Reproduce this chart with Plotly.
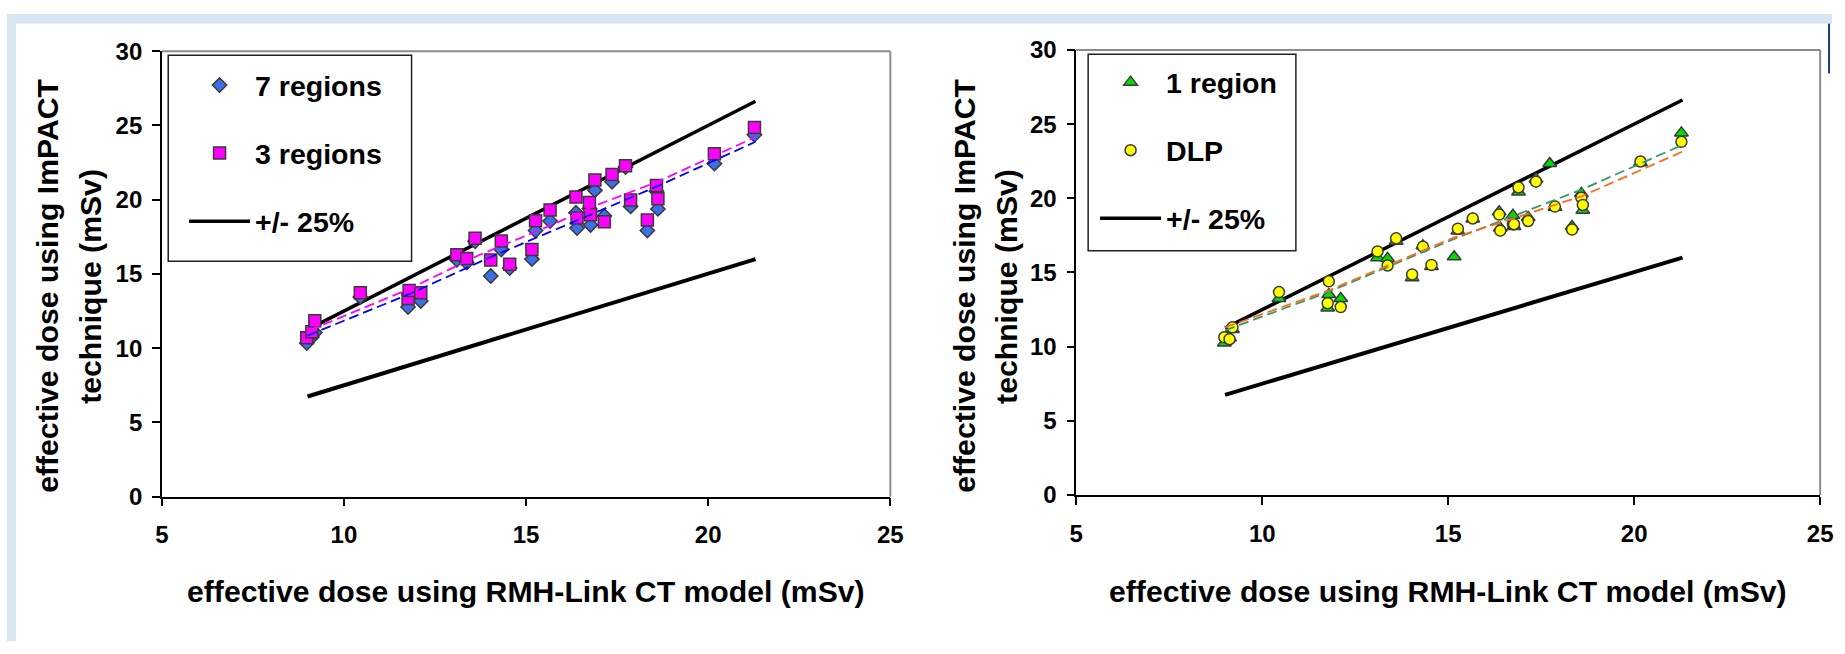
import plotly.graph_objects as go

W, H = 1845, 654

# Effective dose per patient from the RMH-Link CT model (mSv)
rmh_link = [8.98, 9.12, 9.20, 10.45, 11.76, 11.79, 12.11, 13.10, 13.37, 13.60,
            14.03, 14.32, 14.55, 15.16, 15.26, 15.66, 16.37, 16.40, 16.74, 16.77,
            16.89, 17.15, 17.36, 17.73, 17.87, 18.33, 18.58, 18.62, 20.17, 21.27]

# ImPACT estimates for the same patients (mSv)
impact_7_regions = [10.35, 10.75, 11.05, 13.45, 12.77, 13.65, 13.18, 15.95, 15.77, 17.20,
                    14.86, 16.65, 15.40, 16.00, 17.92, 18.56, 19.12, 18.09, 19.40, 18.30,
                    20.63, 18.90, 21.21, 22.20, 19.55, 17.92, 20.57, 19.38, 22.43, 24.37]
impact_3_regions = [10.70, 11.10, 11.85, 13.74, 13.35, 13.89, 13.74, 16.30, 16.04, 17.40,
                    15.94, 17.22, 15.66, 16.65, 18.58, 19.31, 20.19, 18.77, 19.81, 18.99,
                    21.32, 18.52, 21.70, 22.28, 19.98, 18.63, 20.95, 20.07, 23.10, 24.87]
impact_1_region = [10.25, 10.60, 11.15, 13.25, 12.60, 13.51, 13.25, 16.00, 15.95, 17.10,
                   14.65, 16.80, 15.40, 16.06, 17.80, 18.60, 19.10, 18.00, 18.85, 18.10,
                   20.42, 18.70, 21.30, 22.35, 19.40, 18.10, 20.32, 19.20, 22.40, 24.41]
impact_dlp = [10.63, 10.50, 11.30, 13.68, 12.93, 14.40, 12.67, 16.42, 15.47, 17.30,
              14.87, 16.74, 15.51, None, 17.95, 18.64, 18.90, 17.82, 18.25, 18.25,
              20.73, 18.47, 21.12, None, 19.44, 17.89, 20.04, 19.55, 22.48, 23.81]

# +/- 25% agreement band
band_x = [9.0, 21.3]
band_upper = [11.25, 26.63]
band_lower = [6.75, 16.0]

# Fitted trend lines
trend7_x = [9.0, 11.8, 13.9, 16.0, 18.6, 21.3]
trend7_y = [10.85, 13.65, 16.0, 18.2, 20.9, 23.9]
trend3_x = [9.05, 11.8, 13.7, 15.5, 16.9, 18.6, 21.3]
trend3_y = [11.2, 14.0, 16.26, 18.09, 19.6, 21.2, 24.22]
trend1_x = [9.0, 11.8, 15.1, 18.6, 21.3]
trend1_y = [11.1, 13.7, 17.2, 20.6, 23.6]
trend_dlp_x = [9.0, 11.8, 15.1, 18.6, 21.3]
trend_dlp_y = [11.3, 13.8, 17.3, 20.15, 23.15]

x_ticks = [5, 10, 15, 20, 25]
y_ticks = [0, 5, 10, 15, 20, 25, 30]

FONT = "Liberation Sans, Arial, sans-serif"
OUTLINE = dict(color="#3a3a3a", width=1.5)

# pixel layout of the two panels
panels = {
    "left": dict(x0=156.5, x1=893, y0=38.8, y1=503.5),
    "right": dict(x0=1081, x1=1833, y0=37.5, y1=501.7),
}


def xdom(p):
    return [p["x0"] / W, p["x1"] / W]


def ydom(p):
    return [1 - p["y1"] / H, 1 - p["y0"] / H]


fig = go.Figure()


def add_panel(xa, ya, legend, series, trends):
    fig.add_trace(go.Scatter(
        x=band_x, y=band_upper, mode="lines", name="+/- 25%",
        line=dict(color="black", width=3.5), xaxis=xa, yaxis=ya,
        legend=legend, legendgroup=legend + "band", legendrank=3))
    fig.add_trace(go.Scatter(
        x=band_x, y=band_lower, mode="lines", showlegend=False,
        line=dict(color="black", width=4), xaxis=xa, yaxis=ya))
    for rank, (name, ys, symbol, size, color) in enumerate(series, start=1):
        fig.add_trace(go.Scatter(
            x=rmh_link, y=ys, mode="markers", name=name,
            marker=dict(symbol=symbol, size=size, color=color, line=OUTLINE),
            xaxis=xa, yaxis=ya, legend=legend,
            legendgroup=legend + name, legendrank=rank))
    for tx, ty, color in trends:
        fig.add_trace(go.Scatter(
            x=tx, y=ty, mode="lines", showlegend=False,
            line=dict(color=color, width=1.8, dash="10px,5px"),
            xaxis=xa, yaxis=ya))


add_panel("x", "y", "legend",
          [("7 regions", impact_7_regions, "diamond", 11, "#3d6fe8"),
           ("3 regions", impact_3_regions, "square", 12, "#ff00ff")],
          [(trend7_x, trend7_y, "#0000ff"), (trend3_x, trend3_y, "#ff00ff")])
add_panel("x2", "y2", "legend2",
          [("1 region", impact_1_region, "triangle-up", 12, "#00dd00"),
           ("DLP", impact_dlp, "circle", 11, "#ffff00")],
          [(trend1_x, trend1_y, "#2e9a6a"), (trend_dlp_x, trend_dlp_y, "#ff6a1a")])

axis_common = dict(
    showline=True, linecolor="black", linewidth=1.5,
    ticks="outside", ticklen=8, tickwidth=1.5, tickcolor="black",
    showgrid=False, zeroline=False,
    tickfont=dict(family=FONT, size=24, color="black", weight="bold"),
)

layout = dict(
    width=W, height=H,
    margin=dict(l=0, r=0, t=0, b=0),
    paper_bgcolor="white", plot_bgcolor="white",
    font=dict(family=FONT, color="black"),
)
for suffix, key in (("", "left"), ("2", "right")):
    p = panels[key]
    layout["xaxis" + suffix] = dict(axis_common, domain=xdom(p), range=[5, 25],
                                    tickvals=x_ticks, anchor="y" + suffix,
                                    ticklabelstandoff=8)
    layout["yaxis" + suffix] = dict(axis_common, domain=ydom(p), range=[0, 30],
                                    tickvals=y_ticks, anchor="x" + suffix,
                                    ticklabelstandoff=5)

legend_font = dict(family=FONT, size=28.5, color="black", weight="bold")
for name, left, top in (("legend", 179, 48), ("legend2", 1100, 45)):
    layout[name] = dict(
        x=left / W, y=1 - top / H, xanchor="left", yanchor="top",
        bgcolor="rgba(0,0,0,0)", borderwidth=0, font=legend_font,
        traceorder="grouped", tracegroupgap=28, itemwidth=61,
    )

fig.update_layout(**layout)

# light blue frame
FRAME = "#d6e6f2"
fig.add_shape(type="rect", xref="paper", yref="paper", x0=0, x1=9 / W, y0=0, y1=1,
              fillcolor=FRAME, line_width=0, layer="below")
fig.add_shape(type="rect", xref="paper", yref="paper", x0=0, x1=1, y0=1 - 10 / H, y1=1,
              fillcolor=FRAME, line_width=0, layer="below")
fig.add_shape(type="line", xref="paper", yref="paper", x0=1 - 3 / W, x1=1 - 3 / W,
              y0=1 - 10 / H, y1=1 - 62 / H, line=dict(color="#1d3f7a", width=2))

# legend boxes
for x0, x1, y0, y1 in ((163, 409, 43, 258), (1093, 1303, 42, 247)):
    fig.add_shape(type="rect", xref="paper", yref="paper",
                  x0=x0 / W, x1=x1 / W, y0=1 - y1 / H, y1=1 - y0 / H,
                  line=dict(color="#222", width=1.5), fillcolor="white", layer="below")

# grey top/right plot borders
for xa, ya in (("x", "y"), ("x2", "y2")):
    fig.add_shape(type="line", xref=xa + " domain", yref=ya + " domain",
                  x0=0, x1=1, y0=1, y1=1, line=dict(color="#8c8c8c", width=2))
    fig.add_shape(type="line", xref=xa + " domain", yref=ya + " domain",
                  x0=1, x1=1, y0=0, y1=1, line=dict(color="#8c8c8c", width=2))

title_font = dict(family=FONT, size=30.2, color="black", weight="bold")
x_title = "effective dose using RMH-Link CT model (mSv)"
for cx in (524.6, 1457):
    fig.add_annotation(x=cx / W, y=1 - 602 / H, xref="paper", yref="paper",
                       text=x_title, showarrow=False, font=title_font,
                       xanchor="center", yanchor="middle")
for c1, c2 in ((41, 84.5), (968, 1010.6)):
    for cx, line in ((c1, "effective dose using ImPACT"), (c2, "technique (mSv)")):
        fig.add_annotation(x=cx / W, y=1 - 284 / H, xref="paper", yref="paper",
                           text=line, showarrow=False, font=title_font, textangle=-90,
                           xanchor="center", yanchor="middle")

fig.write_html("out.html")
